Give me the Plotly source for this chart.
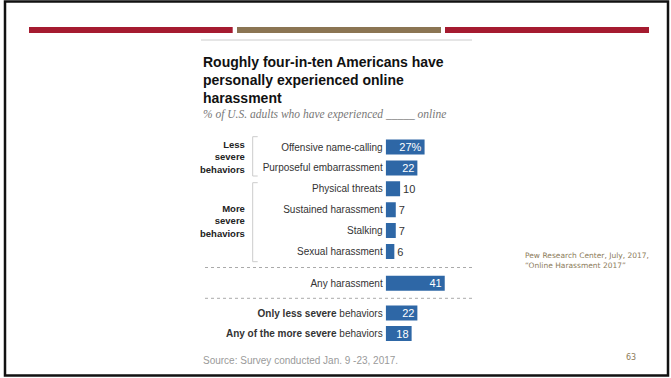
"""Pew slide: share of U.S. adults who have experienced online harassment."""

import plotly.graph_objects as go

W, H = 671, 378

# data
top_labels = [
    "Offensive name-calling",
    "Purposeful embarrassment",
    "Physical threats",
    "Sustained harassment",
    "Stalking",
    "Sexual harassment",
]
top_values = [27, 22, 10, 7, 7, 6]
top_text = ["27%", "22", "10", "7", "7", "6"]

any_labels = ["Any harassment"]
any_values = [41]

split_labels = [
    "<b>Only less severe</b> behaviors",
    "<b>Any of the more severe</b> behaviors",
]
split_values = [22, 18]

BAR_BLUE = "#2e67a6"
SLIDE_RED = "#a51b30"
SLIDE_GOLD = "#8b7553"
NOTE_TAN = "#8c7b5a"
LABEL_FONT = "Liberation Sans, Arial, sans-serif"


def px(x):
    return x / W


def py(y):
    return 1 - y / H


def text_pos(values, cutoff=15):
    return ["inside" if v >= cutoff else "outside" for v in values]


fig = go.Figure()

panels = [
    ("", top_labels, top_values, top_text),
    ("2", any_labels, any_values, [str(v) for v in any_values]),
    ("3", split_labels, split_values, [str(v) for v in split_values]),
]
for suffix, labels, values, texts in panels:
    fig.add_trace(
        go.Bar(
            x=values,
            y=labels,
            orientation="h",
            xaxis="x" + suffix,
            yaxis="y" + suffix,
            marker={"color": BAR_BLUE, "line": {"width": 0}},
            text=texts,
            textposition=text_pos(values),
            insidetextanchor="end",
            constraintext="none",
            insidetextfont={"color": "white", "size": 11, "family": LABEL_FONT},
            outsidetextfont={"color": "#333333", "size": 11, "family": LABEL_FONT},
            cliponaxis=False,
            hoverinfo="skip",
        )
    )

# row pitch ~20.9px, bars start at x=385.7px, 1.44px per point
x_domain = [px(385.7), px(470)]
x_range = [0, (470 - 385.7) / 1.44]
y_domains = {
    "": [py(261.95), py(136.55)],
    "2": [py(293.65), py(272.75)],
    "3": [py(343.75), py(302.75)],
}
row_counts = {"": len(top_labels), "2": len(any_labels), "3": len(split_labels)}

layout_axes = {}
for suffix, dom in y_domains.items():
    n = row_counts[suffix]
    layout_axes["xaxis" + suffix] = dict(
        domain=x_domain,
        range=x_range,
        visible=False,
        anchor="y" + suffix,
        fixedrange=True,
    )
    layout_axes["yaxis" + suffix] = dict(
        domain=dom,
        type="category",
        range=[n - 0.5, -0.5],
        anchor="x" + suffix,
        showgrid=False,
        showline=False,
        zeroline=False,
        ticks="",
        ticklabelstandoff=2,
        tickfont={"size": 10, "color": "#333333", "family": LABEL_FONT},
        fixedrange=True,
    )

shapes = []
# slide header bars
for x0, x1, col in [(29, 232.7, SLIDE_RED), (237, 441, SLIDE_GOLD), (445, 649, SLIDE_RED)]:
    shapes.append(dict(type="rect", xref="paper", yref="paper",
                       x0=px(x0), x1=px(x1), y0=py(33), y1=py(27),
                       fillcolor=col, line={"width": 0}))
# thin grey rule above the chart title
shapes.append(dict(type="line", xref="paper", yref="paper",
                   x0=px(201), x1=px(472), y0=py(40), y1=py(40),
                   line={"color": "#cccccc", "width": 1}))
# dotted separators
for yy in (267.5, 298.3):
    shapes.append(dict(type="line", xref="paper", yref="paper",
                       x0=px(205), x1=px(472), y0=py(yy), y1=py(yy),
                       line={"color": "#aaaaaa", "width": 1, "dash": "dot"}))
# group brackets
for top, bot in ((136.7, 176), (182.7, 261.7)):
    shapes.append(dict(
        type="path", xref="paper", yref="paper",
        path=(f"M {px(257.7)} {py(top)} L {px(252.7)} {py(top)} "
              f"L {px(252.7)} {py(bot)} L {px(257.7)} {py(bot)}"),
        line={"color": "#cccccc", "width": 1},
    ))
# slide frame
shapes.append(dict(type="rect", xref="paper", yref="paper",
                   x0=px(5), x1=px(668), y0=py(375.5), y1=py(1.5),
                   line={"color": "#111111", "width": 2.5}))

annotations = [
    dict(text="Roughly four-in-ten Americans have<br>personally experienced online<br>harassment",
         x=px(201), y=py(52), xanchor="left", yanchor="top", align="left",
         font={"size": 14, "color": "#111111", "family": "Liberation Sans, Arial, sans-serif",
               "weight": "bold"}),
    dict(text="% of U.S. adults who have experienced _____ online",
         x=px(201), y=py(115), xanchor="left", yanchor="middle", align="left",
         font={"size": 11.5, "color": "#777777", "family": "Liberation Serif, serif",
               "style": "italic"}),
    dict(text="<b>Less<br>severe<br>behaviors</b>",
         x=px(247), y=py(157), xanchor="right", yanchor="middle", align="right",
         font={"size": 9.5, "color": "#222222", "family": LABEL_FONT}),
    dict(text="<b>More<br>severe<br>behaviors</b>",
         x=px(247), y=py(221.5), xanchor="right", yanchor="middle", align="right",
         font={"size": 9.5, "color": "#222222", "family": LABEL_FONT}),
    dict(text="Source: Survey conducted Jan. 9 -23, 2017.",
         x=px(201), y=py(360), xanchor="left", yanchor="middle", align="left",
         font={"size": 10, "color": "#9a9a9a", "family": LABEL_FONT}),
    dict(text="Pew Research Center, July, 2017,<br>\u201cOnline Harassment 2017\u201d",
         x=px(523), y=py(260), xanchor="left", yanchor="middle", align="left",
         font={"size": 7.5, "color": NOTE_TAN, "family": "DejaVu Sans, sans-serif"}),
    dict(text="63",
         x=px(631), y=py(357), xanchor="center", yanchor="middle",
         font={"size": 8, "color": NOTE_TAN, "family": "DejaVu Sans, sans-serif"}),
]
for a in annotations:
    a.update(xref="paper", yref="paper", showarrow=False)

fig.update_layout(
    width=W,
    height=H,
    margin={"l": 0, "r": 0, "t": 0, "b": 0},
    paper_bgcolor="white",
    plot_bgcolor="rgba(0,0,0,0)",
    showlegend=False,
    bargap=0.28,
    shapes=shapes,
    annotations=annotations,
    font={"family": LABEL_FONT},
    **layout_axes,
)

# drop the browser's default 8px body margin so the slide sits at 0,0
fig.write_html(
    "out.html",
    config={"displayModeBar": False, "staticPlot": True},
    post_script="document.body.style.margin='0';document.body.style.overflow='hidden';",
)
